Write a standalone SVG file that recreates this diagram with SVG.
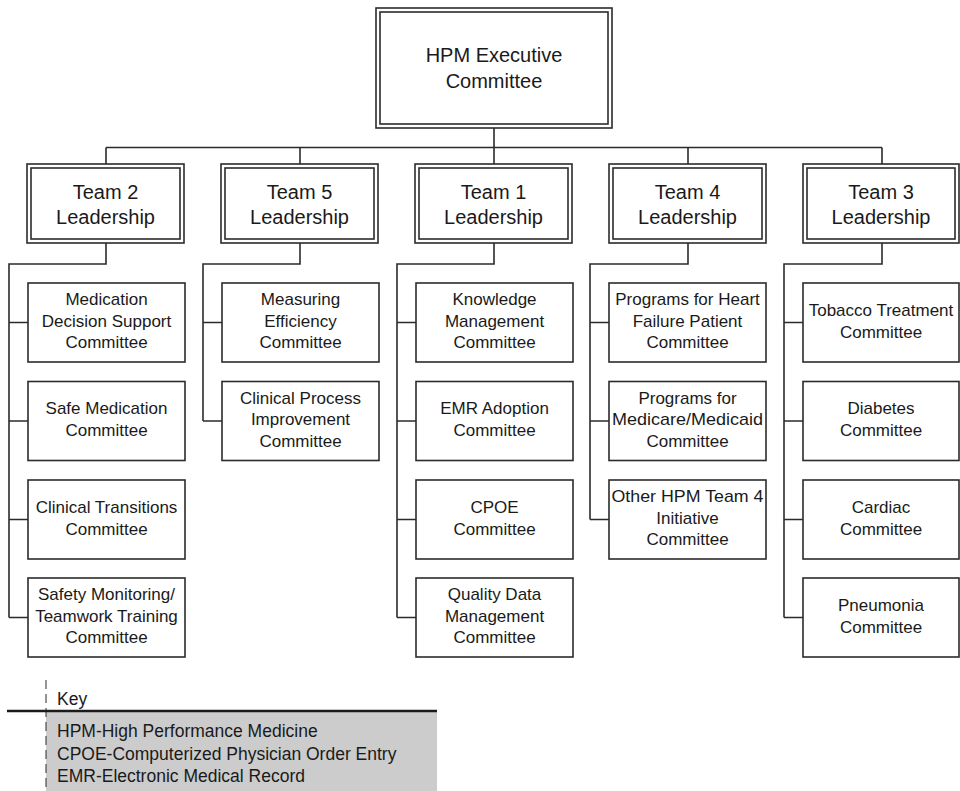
<svg xmlns="http://www.w3.org/2000/svg" width="960" height="791" viewBox="0 0 960 791">
  <style>
    .box { fill: #ffffff; stroke: #2b2b2b; stroke-width: 1.6; }
    .wire { fill: none; stroke: #2b2b2b; stroke-width: 1.6; }
    text { font-family: "Liberation Sans", Arial, sans-serif; fill: #1a1a1a; text-anchor: middle; }
    .big { font-size: 20px; }
    .small { font-size: 17px; }
    .key { font-size: 17.5px; text-anchor: start; }
  </style>

  <rect width="960" height="791" fill="#ffffff"/>

  <!-- connectors -->
  <g id="connectors" class="wire">
    <path d="M494 128 V147.5"/>
    <path d="M106 147.5 H882"/>
    <path d="M106 147.5 V164 M300 147.5 V164 M494 147.5 V164 M688 147.5 V164 M882 147.5 V164"/>
    <!-- Team 2 branch -->
    <path d="M106 243 V264 H9 V617.5 M9 322.5 H28 M9 421 H28 M9 519.5 H28 M9 617.5 H28"/>
    <!-- Team 5 branch -->
    <path d="M300 243 V264 H203 V421 M203 322.5 H222 M203 421 H222"/>
    <!-- Team 1 branch -->
    <path d="M494 243 V264 H397 V617.5 M397 322.5 H416 M397 421 H416 M397 519.5 H416 M397 617.5 H416"/>
    <!-- Team 4 branch -->
    <path d="M688 243 V264 H590 V519.5 M590 322.5 H609 M590 421 H609 M590 519.5 H609"/>
    <!-- Team 3 branch -->
    <path d="M882 243 V264 H784 V617.5 M784 322.5 H803 M784 421 H803 M784 519.5 H803 M784 617.5 H803"/>
  </g>

  <!-- executive committee -->
  <g id="exec">
    <rect class="box" x="376" y="8" width="236" height="120"/>
    <rect class="box" x="380" y="12" width="228" height="112"/>
    <text class="big" x="494" y="62">HPM Executive</text>
    <text class="big" x="494" y="88">Committee</text>
  </g>

  <!-- team leadership boxes -->
  <g id="team2">
    <rect class="box" x="27" y="164" width="157" height="79"/>
    <rect class="box" x="31" y="168" width="149" height="71"/>
    <text class="big" x="105.5" y="199">Team 2</text>
    <text class="big" x="105.5" y="224">Leadership</text>
  </g>
  <g id="team5">
    <rect class="box" x="221" y="164" width="157" height="79"/>
    <rect class="box" x="225" y="168" width="149" height="71"/>
    <text class="big" x="299.5" y="199">Team 5</text>
    <text class="big" x="299.5" y="224">Leadership</text>
  </g>
  <g id="team1">
    <rect class="box" x="415" y="164" width="157" height="79"/>
    <rect class="box" x="419" y="168" width="149" height="71"/>
    <text class="big" x="493.5" y="199">Team 1</text>
    <text class="big" x="493.5" y="224">Leadership</text>
  </g>
  <g id="team4">
    <rect class="box" x="609" y="164" width="157" height="79"/>
    <rect class="box" x="613" y="168" width="149" height="71"/>
    <text class="big" x="687.5" y="199">Team 4</text>
    <text class="big" x="687.5" y="224">Leadership</text>
  </g>
  <g id="team3">
    <rect class="box" x="803" y="164" width="156" height="79"/>
    <rect class="box" x="807" y="168" width="148" height="71"/>
    <text class="big" x="881" y="199">Team 3</text>
    <text class="big" x="881" y="224">Leadership</text>
  </g>

  <!-- Team 2 committees -->
  <g id="med-decision">
    <rect class="box" x="28" y="283" width="157" height="79"/>
    <text class="small" x="106.5" y="305">Medication</text>
    <text class="small" x="106.5" y="326.5">Decision Support</text>
    <text class="small" x="106.5" y="348">Committee</text>
  </g>
  <g id="safe-med">
    <rect class="box" x="28" y="381.5" width="157" height="79"/>
    <text class="small" x="106.5" y="414">Safe Medication</text>
    <text class="small" x="106.5" y="436">Committee</text>
  </g>
  <g id="clin-trans">
    <rect class="box" x="28" y="480" width="157" height="79"/>
    <text class="small" x="106.5" y="512.5">Clinical Transitions</text>
    <text class="small" x="106.5" y="534.5">Committee</text>
  </g>
  <g id="safety-mon">
    <rect class="box" x="28" y="578" width="157" height="79"/>
    <text class="small" x="106.5" y="600">Safety Monitoring/</text>
    <text class="small" x="106.5" y="621.5">Teamwork Training</text>
    <text class="small" x="106.5" y="643">Committee</text>
  </g>

  <!-- Team 5 committees -->
  <g id="measuring">
    <rect class="box" x="222" y="283" width="157" height="79"/>
    <text class="small" x="300.5" y="305">Measuring</text>
    <text class="small" x="300.5" y="326.5">Efficiency</text>
    <text class="small" x="300.5" y="348">Committee</text>
  </g>
  <g id="clin-process">
    <rect class="box" x="222" y="381.5" width="157" height="79"/>
    <text class="small" x="300.5" y="403.5">Clinical Process</text>
    <text class="small" x="300.5" y="425">Improvement</text>
    <text class="small" x="300.5" y="446.5">Committee</text>
  </g>

  <!-- Team 1 committees -->
  <g id="knowledge">
    <rect class="box" x="416" y="283" width="157" height="79"/>
    <text class="small" x="494.5" y="305">Knowledge</text>
    <text class="small" x="494.5" y="326.5">Management</text>
    <text class="small" x="494.5" y="348">Committee</text>
  </g>
  <g id="emr">
    <rect class="box" x="416" y="381.5" width="157" height="79"/>
    <text class="small" x="494.5" y="414">EMR Adoption</text>
    <text class="small" x="494.5" y="436">Committee</text>
  </g>
  <g id="cpoe">
    <rect class="box" x="416" y="480" width="157" height="79"/>
    <text class="small" x="494.5" y="512.5">CPOE</text>
    <text class="small" x="494.5" y="534.5">Committee</text>
  </g>
  <g id="quality">
    <rect class="box" x="416" y="578" width="157" height="79"/>
    <text class="small" x="494.5" y="600">Quality Data</text>
    <text class="small" x="494.5" y="621.5">Management</text>
    <text class="small" x="494.5" y="643">Committee</text>
  </g>

  <!-- Team 4 committees -->
  <g id="heart-failure">
    <rect class="box" x="609" y="283" width="157" height="79"/>
    <text class="small" x="687.5" y="305">Programs for Heart</text>
    <text class="small" x="687.5" y="326.5">Failure Patient</text>
    <text class="small" x="687.5" y="348">Committee</text>
  </g>
  <g id="medicare">
    <rect class="box" x="609" y="381.5" width="157" height="79"/>
    <text class="small" x="687.5" y="403.5">Programs for</text>
    <text class="small" x="687.5" y="425" textLength="151" lengthAdjust="spacingAndGlyphs">Medicare/Medicaid</text>
    <text class="small" x="687.5" y="446.5">Committee</text>
  </g>
  <g id="other-hpm">
    <rect class="box" x="609" y="480" width="157" height="79"/>
    <text class="small" x="687.5" y="502" textLength="152" lengthAdjust="spacingAndGlyphs">Other HPM Team 4</text>
    <text class="small" x="687.5" y="523.5">Initiative</text>
    <text class="small" x="687.5" y="545">Committee</text>
  </g>

  <!-- Team 3 committees -->
  <g id="tobacco">
    <rect class="box" x="803" y="283" width="156" height="79"/>
    <text class="small" x="881" y="315.5">Tobacco Treatment</text>
    <text class="small" x="881" y="337.5">Committee</text>
  </g>
  <g id="diabetes">
    <rect class="box" x="803" y="381.5" width="156" height="79"/>
    <text class="small" x="881" y="414">Diabetes</text>
    <text class="small" x="881" y="436">Committee</text>
  </g>
  <g id="cardiac">
    <rect class="box" x="803" y="480" width="156" height="79"/>
    <text class="small" x="881" y="512.5">Cardiac</text>
    <text class="small" x="881" y="534.5">Committee</text>
  </g>
  <g id="pneumonia">
    <rect class="box" x="803" y="578" width="156" height="79"/>
    <text class="small" x="881" y="610.5">Pneumonia</text>
    <text class="small" x="881" y="632.5">Committee</text>
  </g>

  <!-- key / legend -->
  <g id="legend">
    <rect x="46" y="711" width="391" height="80" fill="#cccccc"/>
    <line x1="46" y1="680" x2="46" y2="791" stroke="#2b2b2b" stroke-width="1" stroke-dasharray="9 5"/>
    <line x1="7" y1="711" x2="437" y2="711" stroke="#1a1a1a" stroke-width="2.5"/>
    <text class="key" x="57" y="705">Key</text>
    <text class="key" x="57" y="737">HPM-High Performance Medicine</text>
    <text class="key" x="57" y="760">CPOE-Computerized Physician Order Entry</text>
    <text class="key" x="57" y="782">EMR-Electronic Medical Record</text>
  </g>
</svg>
